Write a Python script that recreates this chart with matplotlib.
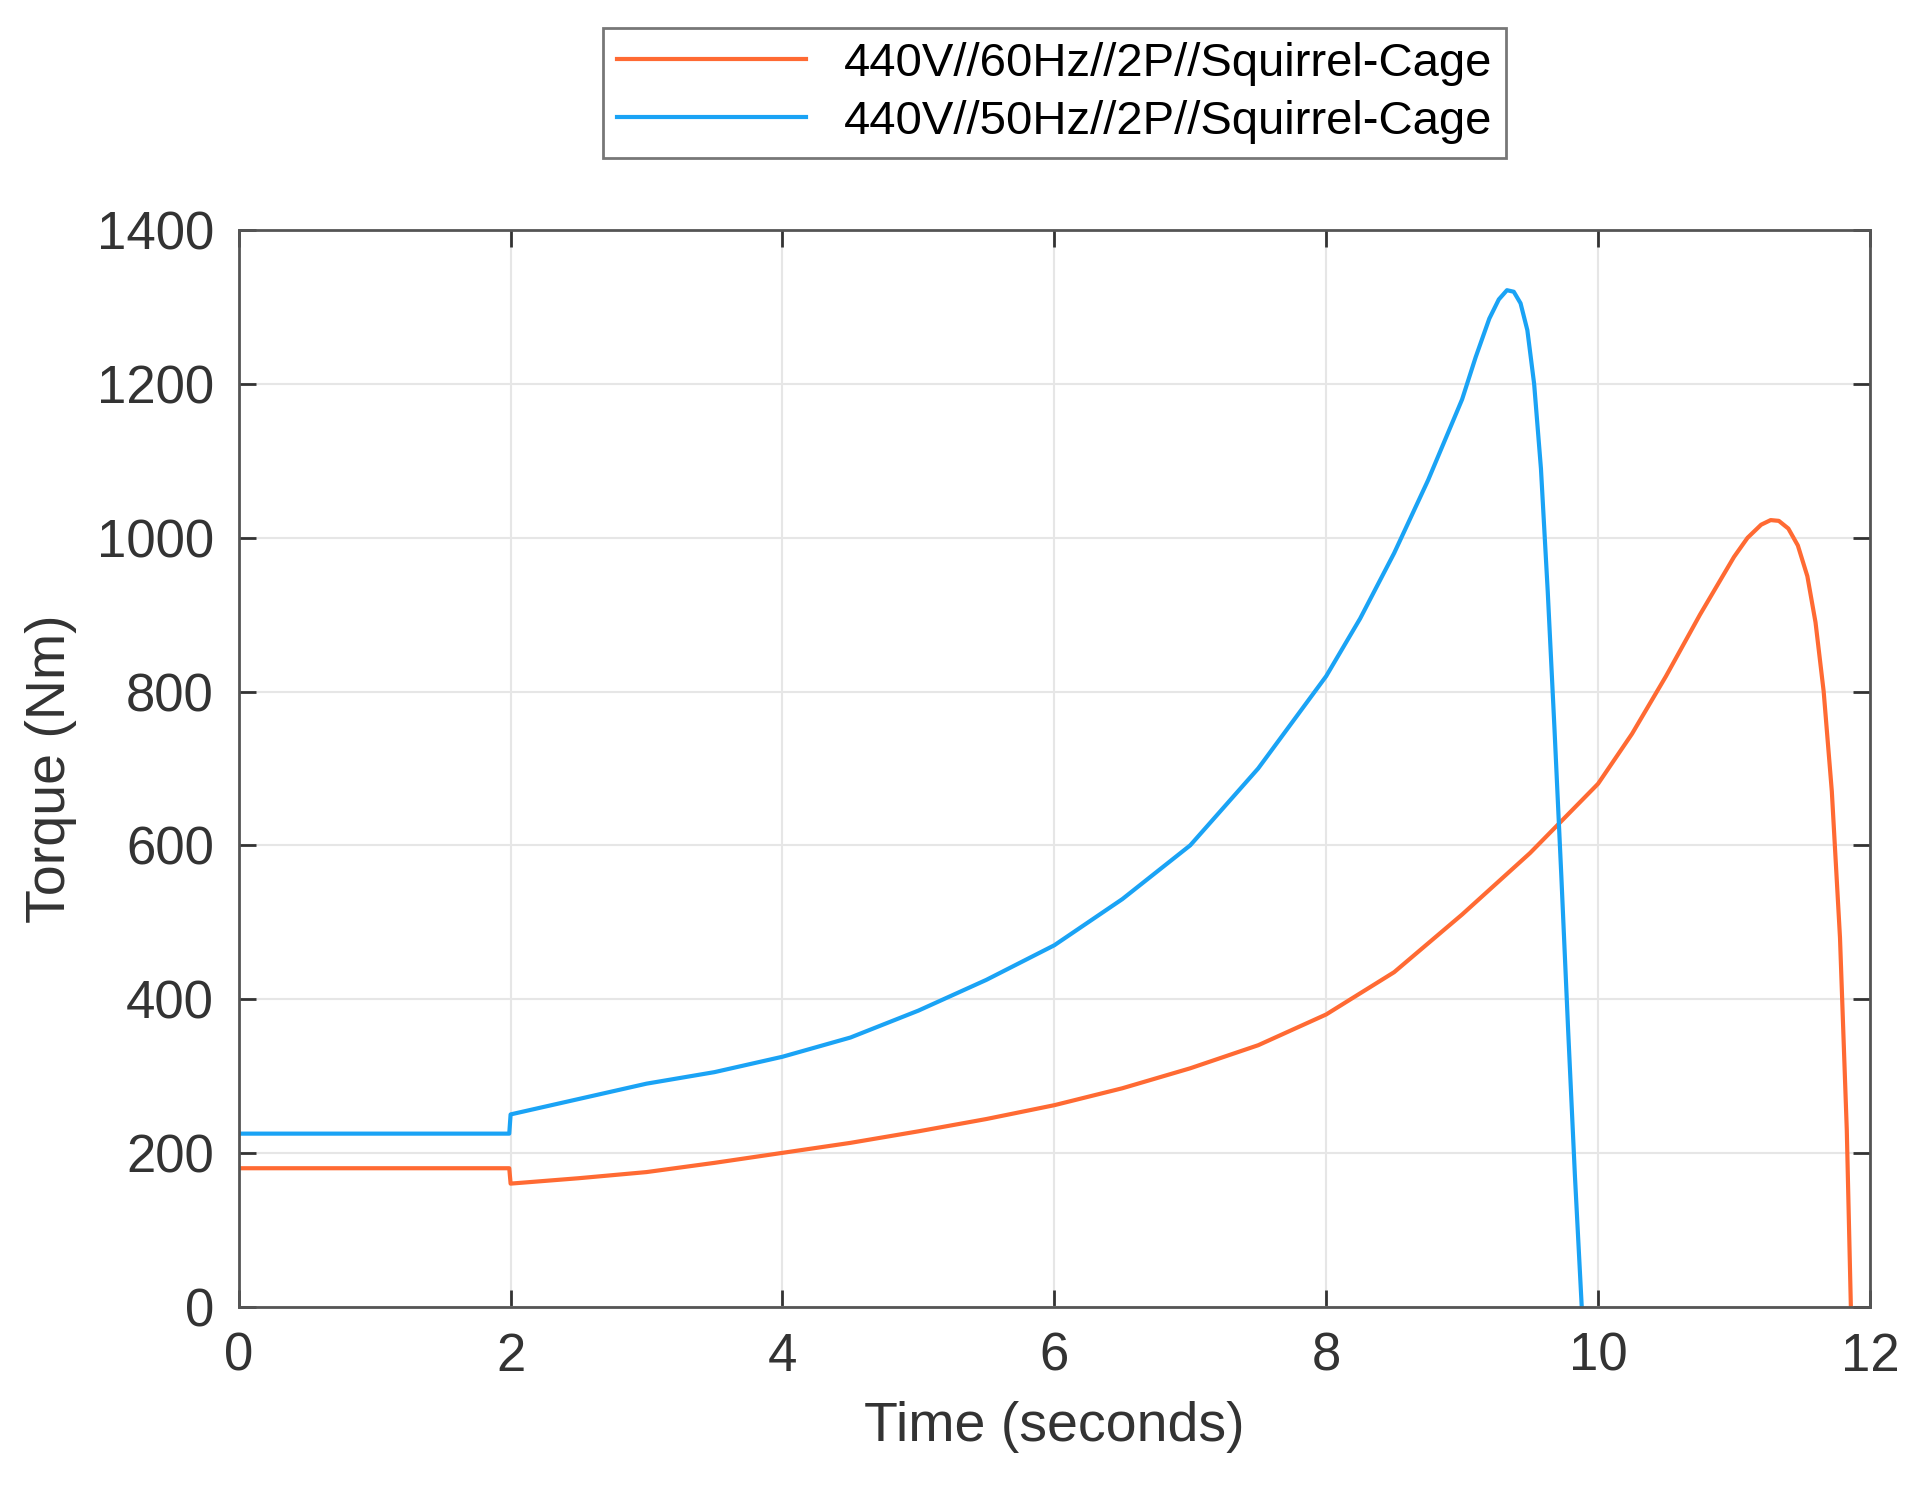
import matplotlib
matplotlib.use("Agg")
import matplotlib.pyplot as plt

t_blue = [0, 1.99, 2.0, 2.5, 3, 3.5, 4, 4.5, 5, 5.5, 6, 6.5, 7, 7.5, 8, 8.25, 8.5, 8.75, 9, 9.1, 9.2, 9.27, 9.33, 9.38, 9.43, 9.48, 9.53, 9.58, 9.63, 9.68, 9.73, 9.78, 9.83, 9.88]
y_blue = [225, 225, 250, 270, 290, 305, 325, 350, 385, 425, 470, 530, 600, 700, 820, 895, 980, 1075, 1180, 1235, 1285, 1310, 1322, 1320, 1305, 1270, 1200, 1090, 930, 750, 560, 360, 170, 0]
t_or = [0, 1.99, 2.0, 2.5, 3, 3.5, 4, 4.5, 5, 5.5, 6, 6.5, 7, 7.5, 8, 8.5, 9, 9.5, 10, 10.25, 10.5, 10.75, 11, 11.1, 11.2, 11.27, 11.33, 11.4, 11.47, 11.54, 11.6, 11.66, 11.72, 11.78, 11.83, 11.86]
y_or = [180, 180, 160, 167, 175, 187, 200, 213, 228, 244, 262, 284, 310, 340, 380, 435, 510, 590, 680, 745, 820, 900, 975, 1000, 1017, 1023, 1022, 1012, 990, 950, 890, 800, 670, 480, 230, 0]
labels = ["440V//60Hz//2P//Squirrel-Cage", "440V//50Hz//2P//Squirrel-Cage"]

plt.rcParams['font.family'] = ['Liberation Sans', 'DejaVu Sans']
fig = plt.figure(figsize=(19.1, 14.95), dpi=100)
ax = fig.add_axes([0.125, 0.126, 0.854, 0.72])
ax.plot(t_or, y_or, color="#FF6A33", lw=3, label=labels[0])
ax.plot(t_blue, y_blue, color="#1AA3F5", lw=3, label=labels[1])
ax.set_xlim(0, 12)
ax.set_ylim(0, 1400)
ax.set_xticks(range(0, 13, 2))
ax.set_yticks(range(0, 1401, 200))
ax.grid(True, color="#e6e6e6", lw=1.5)
ax.tick_params(direction="in", top=True, right=True, labelsize=38, length=12, width=2, colors="#333333", pad=18)
for s in ax.spines.values():
    s.set_color("#555555"); s.set_linewidth(2)
ax.set_xlabel("Time (seconds)", fontsize=40, color="#333333", labelpad=14)
ax.set_ylabel("Torque (Nm)", fontsize=40, color="#333333", labelpad=14)
leg = ax.legend(loc="lower center", bbox_to_anchor=(0.5, 1.045), fontsize=34, frameon=True,
                fancybox=False, edgecolor="#555555", handlelength=4, borderpad=0.3, labelspacing=0.3)
leg.get_frame().set_linewidth(2)
fig.savefig("out.png")
